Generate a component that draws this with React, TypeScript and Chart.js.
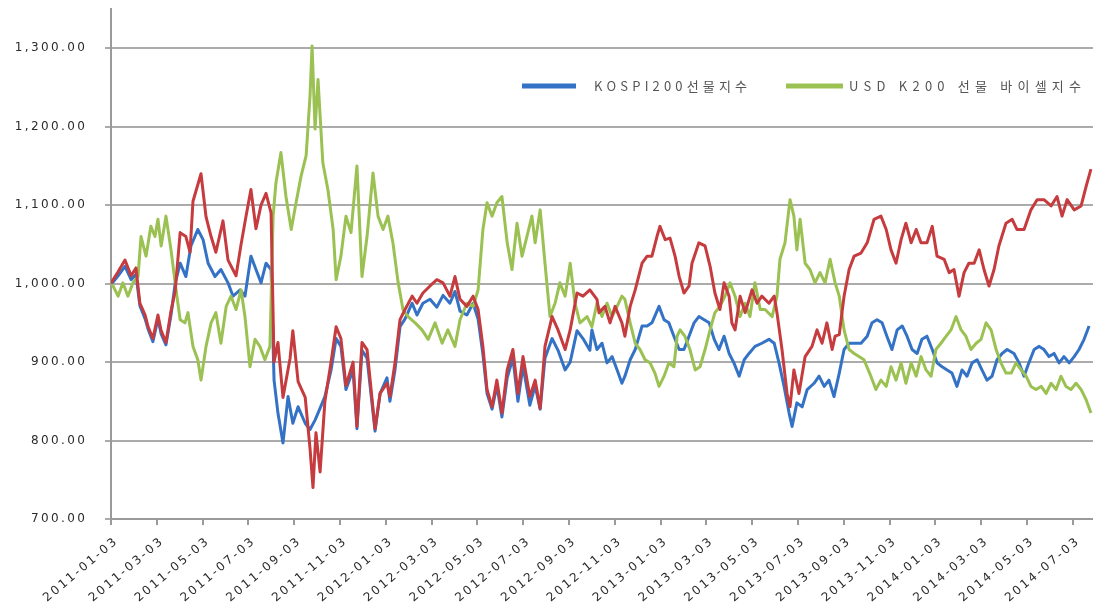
import { useEffect, useRef } from 'react';
import { Chart, registerables } from 'chart.js';

Chart.register(...registerables);

// x tick labels (every 2 months from 2011-01-03)
const xTickLabels = [
  '2011-01-03', '2011-03-03', '2011-05-03', '2011-07-03', '2011-09-03', '2011-11-03',
  '2012-01-03', '2012-03-03', '2012-05-03', '2012-07-03', '2012-09-03', '2012-11-03',
  '2013-01-03', '2013-03-03', '2013-05-03', '2013-07-03', '2013-09-03', '2013-11-03',
  '2014-01-03', '2014-03-03', '2014-05-03', '2014-07-03',
];

const yTickValues = [700, 800, 900, 1000, 1100, 1200, 1300];

const legendLabels = ['KOSPI200선물지수', 'USD K200 선물 바이셀지수'];

// x = months elapsed since 2011-01-03
const kospiMonths = [
  0, 0.09, 0.31, 0.61, 0.88, 1.09, 1.26, 1.49, 1.62, 1.83, 2.05, 2.19, 2.4, 2.62, 2.8,
  3.02, 3.27, 3.49, 3.79, 4.02, 4.24, 4.54, 4.8, 5.11, 5.33, 5.64, 5.85, 6.11, 6.33, 6.55, 6.77, 6.99,
  7.12, 7.29, 7.51, 7.73, 7.94, 8.17, 8.48, 8.69, 8.91, 9.04, 9.34, 9.61, 9.83, 10.04, 10.26, 10.57,
  10.74, 10.96, 11.18, 11.53, 11.75, 12.05, 12.18, 12.4, 12.62, 12.84, 13.15, 13.36, 13.62, 13.93,
  14.23, 14.5, 14.8, 15.02, 15.24, 15.54, 15.81, 16.03, 16.24, 16.42, 16.64, 16.85, 17.07, 17.3,
  17.55, 17.77, 17.99, 18.29, 18.52, 18.74, 18.95, 19.26, 19.52, 19.83, 20.05, 20.35, 20.61, 20.91,
  21.0, 21.22, 21.44, 21.66, 21.88, 22.1, 22.31, 22.44, 22.67, 22.89, 23.19, 23.41, 23.62, 23.93,
  24.15, 24.36, 24.58, 24.81, 25.02, 25.24, 25.46, 25.67, 25.9, 26.12, 26.34, 26.55, 26.77, 26.99,
  27.2, 27.43, 27.65, 27.86, 28.12, 28.42, 28.73, 28.96, 29.17, 29.39, 29.61, 29.74, 29.95, 30.18,
  30.4, 30.7, 30.92, 31.14, 31.35, 31.57, 31.8, 32.01, 32.23, 32.45, 32.75, 33.02, 33.23, 33.45,
  33.67, 33.88, 34.1, 34.33, 34.55, 34.76, 34.98, 35.2, 35.41, 35.63, 35.86, 36.07, 36.29, 36.51,
  36.72, 36.94, 37.16, 37.38, 37.6, 37.82, 38.03, 38.25, 38.47, 38.69, 38.91, 39.13, 39.43, 39.65,
  39.87, 40.08, 40.31, 40.53, 40.74, 40.96, 41.18, 41.4, 41.61, 41.84, 42.06, 42.27, 42.49, 42.71,
];
const kospiValues = [
  1000, 1002, 1010, 1022, 1005, 1012, 972, 955, 942, 926, 955, 936, 922, 960, 1000,
  1026, 1009, 1048, 1069, 1056, 1026, 1009, 1018, 1001, 984, 992, 984, 1035, 1018, 1001, 1026, 1018,
  877, 835, 797, 856, 822, 843, 822, 814, 826, 835, 856, 890, 930, 920, 865, 890,
  815, 915, 905, 812, 860, 880, 850, 890, 945, 955, 975, 960, 975, 980,
  970, 985, 975, 990, 965, 960, 975, 955, 910, 860, 840, 870, 830, 880,
  905, 850, 895, 845, 870, 840, 905, 930, 915, 890, 900, 940, 930, 915,
  941, 916, 924, 899, 907, 890, 873, 882, 903, 916, 946, 946, 950, 971,
  954, 950, 933, 916, 916, 933, 950, 958, 954, 950, 929, 916, 933, 911,
  899, 882, 903, 911, 920, 924, 929, 924, 899, 869, 835, 818, 848, 843,
  865, 873, 882, 869, 877, 856, 886, 916, 924, 924, 924, 933, 950, 954,
  950, 933, 916, 941, 946, 933, 916, 911, 929, 933, 916, 899, 894, 890,
  886, 869, 890, 882, 899, 903, 890, 877, 882, 903, 911, 916, 911, 899,
  882, 899, 916, 920, 916, 907, 911, 899, 907, 899, 907, 916, 929, 946,
];

const buySellMonths = [
  0, 0.09, 0.31, 0.52, 0.74, 0.96, 1.18, 1.31, 1.53, 1.74, 1.92, 2.05, 2.19, 2.4, 2.62, 2.84,
  3.02, 3.23, 3.36, 3.58, 3.79, 3.93, 4.15, 4.37, 4.58, 4.8, 5.03, 5.24, 5.46, 5.68, 5.85, 6.07,
  6.29, 6.5, 6.72, 6.94, 7.08, 7.2, 7.42, 7.64, 7.87, 8.08, 8.3, 8.52, 8.69, 8.78, 8.91, 9.04,
  9.25, 9.47, 9.7, 9.83, 10.04, 10.26, 10.48, 10.74, 10.96, 11.18, 11.44, 11.66, 11.88, 12.09,
  12.31, 12.54, 12.75, 12.97, 13.28, 13.58, 13.85, 14.15, 14.46, 14.71, 15.02, 15.24, 15.54, 15.81,
  16.03, 16.24, 16.42, 16.64, 16.85, 17.07, 17.3, 17.51, 17.73, 17.95, 18.16, 18.38, 18.52, 18.74,
  18.95, 19.17, 19.39, 19.6, 19.83, 20.05, 20.26, 20.48, 20.79, 21.0, 21.22, 21.44, 21.66, 21.88,
  22.1, 22.31, 22.44, 22.67, 22.89, 23.1, 23.32, 23.54, 23.75, 23.93, 24.15, 24.36, 24.58, 24.72,
  24.85, 25.06, 25.28, 25.51, 25.72, 25.94, 26.16, 26.37, 26.59, 26.81, 27.03, 27.25, 27.47, 27.69,
  27.9, 28.12, 28.35, 28.56, 28.87, 29.08, 29.21, 29.43, 29.65, 29.82, 29.95, 30.09, 30.31, 30.52,
  30.74, 30.96, 31.18, 31.4, 31.62, 31.8, 32.01, 32.23, 32.45, 32.66, 32.88, 33.18, 33.4, 33.62,
  33.85, 34.06, 34.28, 34.5, 34.71, 34.94, 35.16, 35.37, 35.59, 35.81, 36.02, 36.24, 36.47, 36.68,
  36.9, 37.12, 37.33, 37.55, 37.78, 37.99, 38.21, 38.43, 38.65, 38.86, 39.08, 39.31, 39.52, 39.74,
  39.96, 40.17, 40.39, 40.62, 40.83, 41.05, 41.27, 41.48, 41.7, 41.92, 42.14, 42.36, 42.58, 42.79,
];
const buySellValues = [
  1000, 997, 984, 1001, 984, 1001, 1009, 1060, 1035, 1073, 1060, 1082, 1048, 1086, 1043, 992,
  954, 950, 963, 920, 903, 877, 920, 950, 963, 924, 971, 984, 967, 992, 958, 894,
  929, 920, 903, 920, 1086, 1128, 1167, 1111, 1069, 1103, 1137, 1163, 1239, 1303, 1197, 1260,
  1154, 1120, 1069, 1005, 1035, 1086, 1065, 1150, 1009, 1060, 1141, 1086, 1069, 1086,
  1052, 1001, 967, 958, 950, 941, 929, 950, 924, 941, 920, 954, 975, 971,
  992, 1069, 1103, 1086, 1103, 1111, 1052, 1018, 1077, 1035, 1060, 1086, 1052, 1094,
  1026, 958, 975, 1001, 984, 1026, 975, 950, 958, 945, 975, 958, 975, 958,
  971, 984, 980, 950, 924, 916, 903, 899, 886, 869, 882, 899, 894, 933,
  941, 933, 916, 890, 894, 916, 941, 963, 971, 984, 1001, 984, 958, 975,
  958, 1001, 967, 967, 958, 984, 1031, 1052, 1107, 1086, 1043, 1082, 1026, 1018,
  1001, 1014, 1001, 1031, 1001, 984, 941, 916, 911, 907, 903, 882, 865, 877,
  869, 894, 877, 899, 873, 899, 882, 907, 890, 882, 916, 924, 933, 941,
  958, 941, 933, 916, 924, 929, 950, 941, 916, 899, 886, 886, 899, 890,
  882, 869, 865, 869, 860, 873, 865, 882, 869, 865, 873, 865, 852, 835,
];

const thirdMonths = [
  0, 0.09, 0.31, 0.61, 0.88, 1.09, 1.26, 1.49, 1.62, 1.83, 2.05, 2.19, 2.4, 2.62, 2.8,
  3.02, 3.27, 3.45, 3.58, 3.93, 4.15, 4.37, 4.58, 4.89, 5.11, 5.46, 5.68, 5.89, 6.11, 6.33, 6.55,
  6.77, 6.99, 7.12, 7.29, 7.51, 7.82, 7.94, 8.17, 8.48, 8.69, 8.82, 8.95, 9.13, 9.34, 9.61, 9.83,
  10.04, 10.26, 10.57, 10.74, 10.96, 11.18, 11.53, 11.75, 12.05, 12.18, 12.4, 12.62, 12.84, 13.15,
  13.36, 13.62, 13.93, 14.23, 14.5, 14.8, 15.02, 15.24, 15.54, 15.81, 16.03, 16.24, 16.42, 16.64,
  16.85, 17.07, 17.3, 17.55, 17.77, 17.99, 18.29, 18.52, 18.74, 18.95, 19.26, 19.52, 19.83, 20.05,
  20.35, 20.61, 20.91, 21.22, 21.31, 21.57, 21.79, 22.01, 22.31, 22.44, 22.67, 22.89, 23.19, 23.41,
  23.62, 23.84, 23.97, 24.2, 24.41, 24.63, 24.81, 25.02, 25.24, 25.37, 25.67, 25.94, 26.16, 26.37,
  26.59, 26.77, 26.99, 27.11, 27.25, 27.47, 27.69, 27.99, 28.21, 28.42, 28.73, 28.96, 29.08, 29.3,
  29.52, 29.65, 29.82, 30.04, 30.31, 30.61, 30.83, 31.05, 31.26, 31.49, 31.62, 31.8, 32.01, 32.23,
  32.45, 32.75, 33.02, 33.32, 33.62, 33.85, 34.06, 34.28, 34.5, 34.71, 34.94, 35.16, 35.37, 35.63,
  35.86, 36.07, 36.38, 36.6, 36.81, 37.03, 37.25, 37.46, 37.69, 37.91, 38.12, 38.34, 38.56, 38.77,
  39.08, 39.35, 39.56, 39.87, 40.17, 40.44, 40.74, 41.05, 41.31, 41.53, 41.75, 42.06, 42.36, 42.58,
  42.79,
];
const thirdValues = [
  1000, 1005, 1015, 1030, 1010, 1020, 975, 960, 945, 930, 960, 940, 925, 965, 990,
  1065, 1060, 1040, 1105, 1140, 1085, 1060, 1040, 1080, 1030, 1010, 1050, 1085, 1120, 1070, 1100,
  1115, 1090, 900, 925, 855, 905, 940, 875, 855, 790, 740, 810, 760, 850, 900, 945,
  930, 870, 900, 818, 925, 916, 815, 860, 873, 856, 899, 954, 967, 984,
  975, 988, 997, 1005, 1001, 984, 1009, 980, 971, 984, 967, 920, 865, 843,
  877, 835, 890, 916, 860, 907, 856, 877, 841, 920, 958, 941, 916, 941,
  988, 984, 992, 980, 963, 971, 950, 971, 950, 933, 971, 992, 1026, 1035,
  1035, 1060, 1073, 1056, 1058, 1035, 1009, 988, 997, 1026, 1052, 1048, 1022, 988,
  967, 1001, 984, 950, 941, 984, 963, 992, 975, 984, 975, 984, 963, 916,
  860, 843, 890, 860, 907, 920, 941, 924, 950, 916, 933, 935, 984, 1018,
  1035, 1039, 1052, 1082, 1086, 1069, 1043, 1026, 1056, 1077, 1052, 1069, 1052, 1052,
  1073, 1035, 1031, 1014, 1018, 984, 1014, 1026, 1026, 1043, 1018, 997, 1018, 1048,
  1077, 1082, 1069, 1069, 1094, 1107, 1107, 1099, 1111, 1086, 1107, 1094, 1099, 1124,
  1146,
];

const BLUE = '#3472c6';
const GREEN = '#9ac152';
const RED = '#c63b3e';

const toPoints = (xs: number[], ys: number[]) => xs.map((x, i) => ({ x, y: ys[i] }));

const formatY = (v: number) =>
  v.toLocaleString('en-US', { minimumFractionDigits: 2, maximumFractionDigits: 2 });

// text helpers: draw character by character with extra spacing
const spacedWidth = (ctx: CanvasRenderingContext2D, text: string, sp: number) => {
  const chars = Array.from(text);
  return chars.reduce((acc, ch) => acc + ctx.measureText(ch).width, 0) + sp * (chars.length - 1);
};
const drawSpaced = (ctx: CanvasRenderingContext2D, text: string, x: number, y: number, sp: number) => {
  let cx = x;
  Array.from(text).forEach((ch) => {
    ctx.fillText(ch, cx, y);
    cx += ctx.measureText(ch).width + sp;
  });
};

const legendPlugin = {
  id: 'insideLegend',
  afterDraw(chart: any) {
    const ctx = chart.ctx as CanvasRenderingContext2D;
    const items = [
      { color: BLUE, text: legendLabels[0], x0: 522, x1: 576, tx: 594, width: 153 },
      { color: GREEN, text: legendLabels[1], x0: 786, x1: 843, tx: 849, width: 232 },
    ];
    const y = 86;
    ctx.save();
    ctx.font = '13px "Noto Sans CJK KR", "Noto Sans", sans-serif';
    ctx.fillStyle = '#555555';
    ctx.textBaseline = 'middle';
    ctx.textAlign = 'left';
    items.forEach((it) => {
      ctx.strokeStyle = it.color;
      ctx.lineWidth = 5;
      ctx.beginPath();
      ctx.moveTo(it.x0, y);
      ctx.lineTo(it.x1, y);
      ctx.stroke();
      const n = Array.from(it.text).length;
      const w0 = spacedWidth(ctx, it.text, 0);
      const sp = Math.max(0, (it.width - w0) / (n - 1));
      drawSpaced(ctx, it.text, it.tx, y, sp);
    });
    ctx.restore();
  },
};

const SPACING = 2.4;

const tickLabelPlugin = {
  id: 'spacedTickLabels',
  afterDraw(chart: any) {
    const ctx = chart.ctx as CanvasRenderingContext2D;
    const xs = chart.scales.x;
    const ys = chart.scales.y;
    ctx.save();
    ctx.font = '12px "DejaVu Sans", sans-serif';
    ctx.fillStyle = '#2b2b2b';
    ctx.textBaseline = 'middle';
    ctx.textAlign = 'left';
    yTickValues.forEach((v) => {
      const t = formatY(v);
      const w = spacedWidth(ctx, t, SPACING);
      drawSpaced(ctx, t, ys.right - 26 - w, ys.getPixelForValue(v), SPACING);
    });
    const angle = (-40 * Math.PI) / 180;
    xTickLabels.forEach((t, i) => {
      const px = xs.getPixelForValue(i * 2);
      const w = spacedWidth(ctx, t, SPACING);
      ctx.save();
      ctx.translate(px + 4, xs.top + 22);
      ctx.rotate(angle);
      drawSpaced(ctx, t, -w, 0, SPACING);
      ctx.restore();
    });
    ctx.restore();
  },
};

export default function App() {
  const canvasRef = useRef<HTMLCanvasElement | null>(null);

  useEffect(() => {
    document.body.style.margin = '0';
    document.body.style.overflow = 'hidden';
    const canvas = canvasRef.current;
    if (!canvas) return;
    const chart = new Chart(canvas, {
      type: 'line',
      data: {
        datasets: [
          {
            label: legendLabels[0],
            data: toPoints(kospiMonths, kospiValues),
            borderColor: BLUE,
            borderWidth: 3,
            pointRadius: 0,
            order: 2,
          },
          {
            label: legendLabels[1],
            data: toPoints(buySellMonths, buySellValues),
            borderColor: GREEN,
            borderWidth: 3,
            pointRadius: 0,
            order: 1,
          },
          {
            label: '',
            data: toPoints(thirdMonths, thirdValues),
            borderColor: RED,
            borderWidth: 3,
            pointRadius: 0,
            order: 0,
          },
        ],
      },
      options: {
        animation: false,
        responsive: false,
        maintainAspectRatio: false,
        layout: { padding: { top: 9, right: 0, bottom: 0, left: 0 } },
        plugins: {
          legend: { display: false },
          tooltip: { enabled: false },
        },
        elements: { line: { tension: 0, borderJoinStyle: 'round' } },
        scales: {
          x: {
            type: 'linear',
            min: 0,
            max: 42.88,
            afterFit: (scale: any) => {
              scale.height = 84;
              scale.paddingLeft = 0;
              scale.paddingRight = 0;
            },
            afterBuildTicks: (scale: any) => {
              scale.ticks = xTickLabels.map((_, i) => ({ value: i * 2 }));
            },
            ticks: { display: false, autoSkip: false },
            grid: {
              drawOnChartArea: false,
              drawTicks: true,
              tickLength: 6,
              color: '#9a9a9a',
              lineWidth: 2,
            },
            border: { display: true, color: '#9a9a9a', width: 2 },
          },
          y: {
            min: 700,
            max: 1350,
            afterFit: (scale: any) => {
              scale.width = 111;
            },
            afterBuildTicks: (scale: any) => {
              scale.ticks = yTickValues.map((value) => ({ value }));
            },
            ticks: { display: false },
            grid: {
              color: '#ababab',
              lineWidth: 2,
              tickLength: 6,
            },
            border: { display: true, color: '#9a9a9a', width: 2 },
          },
        },
      },
      plugins: [tickLabelPlugin, legendPlugin],
    });
    return () => chart.destroy();
  }, []);

  return (
    <div style={{ width: 1093, height: 603 }}>
      <canvas ref={canvasRef} width={1093} height={603} style={{ display: 'block' }} />
    </div>
  );
}
